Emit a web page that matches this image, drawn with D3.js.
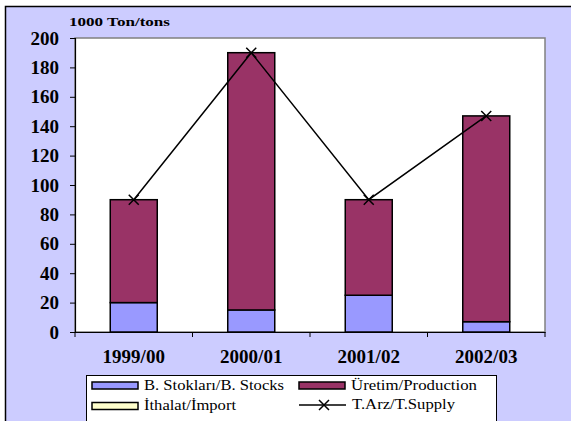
<!DOCTYPE html>
<html><head><meta charset="utf-8">
<script src="https://cdn.jsdelivr.net/npm/d3@7"></script>
<style>body{margin:0;background:#fff}svg{display:block}
svg text{font-family:"Liberation Serif","Times New Roman",serif}</style>
</head><body>
<script>
const categories = ["1999/00","2000/01","2001/02","2002/03"];
const stocks = [20, 15, 25, 7];
const production = [70, 175, 65, 140];
const imports = [0, 0, 0, 0];
const supply = [90, 190, 90, 147];
const yTicks = [0,20,40,60,80,100,120,140,160,180,200];
const unitLabel = "1000 Ton/tons";
const legendLabels = ["B. Stokları/B. Stocks","Üretim/Production","İthalat/İmport","T.Arz/T.Supply"];
const colors = {stocks:"#9999FF", production:"#993366", imports:"#FFFFCC"};

const W=571,H=421;
const svg=d3.select("body").append("svg").attr("width",W).attr("height",H);
svg.append("rect").attr("x",5.5).attr("y",6.5).attr("width",W+10).attr("height",H+10)
  .attr("fill","#CCCCFF").attr("stroke","#000").attr("stroke-width",1.5);

const L=75,R=545,T=38,B=332;
const x=d3.scaleBand().domain(categories).range([L,R]).paddingInner(0.6).paddingOuter(0.3);
const y=d3.scaleLinear().domain([0,200]).range([B,T]);

svg.append("rect").attr("x",L).attr("y",T).attr("width",R-L).attr("height",B-T)
  .attr("fill","#fff").attr("stroke","#808080").attr("stroke-width",1.5);

// y axis
const ya=svg.append("g").attr("transform",`translate(${L},0)`)
  .call(d3.axisLeft(y).tickValues(yTicks).tickSize(5).tickPadding(11));
ya.select(".domain").attr("stroke","#000").attr("stroke-width",1.2);
ya.selectAll(".tick line").attr("stroke","#000");
ya.selectAll("text").attr("font-family",null).style("font-weight","bold").style("font-size","19px").attr("fill","#000");

// x axis
const xa=svg.append("g").attr("transform",`translate(0,${B})`)
  .call(d3.axisBottom(x).tickSize(0).tickPadding(18));
xa.select(".domain").attr("stroke","#000").attr("stroke-width",1.2);
xa.selectAll("text").attr("font-family",null).style("font-weight","bold").style("font-size","19px").attr("fill","#000");
const tickXs=d3.range(categories.length+1).map(i=>L+i*(R-L)/categories.length);
svg.append("g").selectAll("line").data(tickXs).join("line")
  .attr("x1",d=>d).attr("x2",d=>d).attr("y1",B).attr("y2",B+5).attr("stroke","#000");

svg.append("text").attr("x",69).attr("y",25.5).text(unitLabel)
  .style("font-weight","bold").style("font-size","13.5px")
  .attr("textLength",101).attr("lengthAdjust","spacingAndGlyphs");

// bars
const bars=svg.append("g").attr("stroke","#000").attr("stroke-width",1.5);
categories.forEach((c,i)=>{
  bars.append("rect").attr("x",x(c)).attr("width",x.bandwidth())
    .attr("y",y(stocks[i])).attr("height",y(0)-y(stocks[i])).attr("fill",colors.stocks);
  bars.append("rect").attr("x",x(c)).attr("width",x.bandwidth())
    .attr("y",y(stocks[i]+production[i])).attr("height",y(stocks[i])-y(stocks[i]+production[i])).attr("fill",colors.production);
});

// supply line
const cx=c=>x(c)+x.bandwidth()/2;
svg.append("path").datum(supply).attr("fill","none").attr("stroke","#000").attr("stroke-width",1.5)
  .attr("d",d3.line().x((d,i)=>cx(categories[i])).y(d=>y(d)));
const cross=(g,px,py)=>{const s=5;
  g.append("path").attr("d",`M${px-s},${py-s}L${px+s},${py+s}M${px-s},${py+s}L${px+s},${py-s}`)
   .attr("stroke","#000").attr("stroke-width",1.5);};
const mk=svg.append("g");
supply.forEach((d,i)=>cross(mk,cx(categories[i]),y(d)));

// legend
const lg=svg.append("g");
lg.append("rect").attr("x",86.5).attr("y",375.5).attr("width",410).attr("height",60).attr("fill","#fff").attr("stroke","#000");
const items=[
  {lab:legendLabels[0],col:colors.stocks,x:92,y:382,tl:140},
  {lab:legendLabels[1],col:colors.production,x:299,y:382,tl:126},
  {lab:legendLabels[2],col:colors.imports,x:92,y:402.5,tl:92},
];
items.forEach(it=>{
  lg.append("rect").attr("x",it.x).attr("y",it.y).attr("width",46).attr("height",7)
    .attr("fill",it.col).attr("stroke","#000").attr("stroke-width",1.5);
  lg.append("text").attr("x",it.x+52).attr("y",it.y+7.5).text(it.lab).style("font-size","14.5px")
    .attr("textLength",it.tl).attr("lengthAdjust","spacingAndGlyphs");
});
lg.append("line").attr("x1",299).attr("x2",346).attr("y1",405).attr("y2",405).attr("stroke","#000").attr("stroke-width",1.5);
cross(lg,324,405);
lg.append("text").attr("x",352).attr("y",409).text(legendLabels[3]).style("font-size","14.5px")
  .attr("textLength",103).attr("lengthAdjust","spacingAndGlyphs");
</script>
</body></html>
